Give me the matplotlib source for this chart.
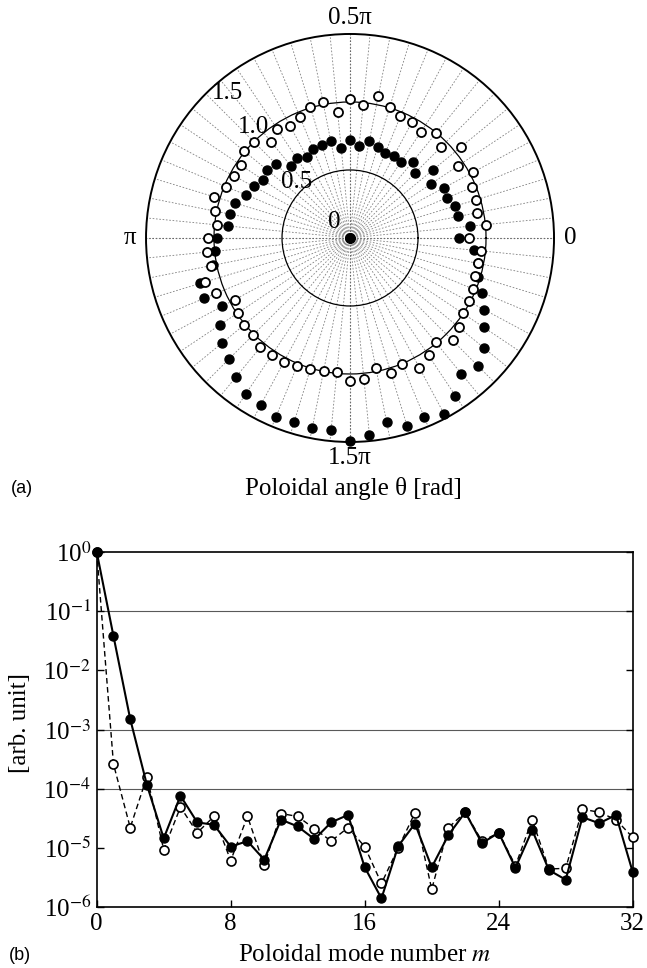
import numpy as np
import matplotlib
matplotlib.use('Agg')
import matplotlib.pyplot as plt
from matplotlib.ticker import NullLocator

plt.rcParams['font.family'] = ['Liberation Serif', 'DejaVu Serif']
plt.rcParams['mathtext.fontset'] = 'stix'

# (a) polar profile, 64 channels every 5.625 deg
n_ch = 64
theta_deg = np.arange(n_ch) * 360.0 / n_ch
r_open = [0.875, 1.005, 0.951, 0.968, 0.973, 1.024, 0.956, 1.056,
          0.951, 1.002, 0.937, 0.964, 0.967, 1.006, 1.064, 0.981,
          1.020, 0.934, 1.020, 1.005, 0.962, 0.931, 0.964, 0.916,
          1.003, 1.010, 0.961, 0.966, 0.988, 1.047, 1.009, 0.986,
          1.047, 1.060, 1.042, 1.117, 1.066, 0.961, 0.989, 1.008,
          1.010, 1.039, 1.035, 1.031, 1.019, 1.005, 0.996, 0.988,
          1.051, 1.045, 0.972, 1.034, 1.003, 1.082, 1.039, 0.991,
          1.066, 1.037, 0.997, 0.990, 0.979, 0.962, 0.957, 0.966]
r_filled = [0.800, 0.884, 0.811, 0.806, 0.768, 0.784, 0.716, 0.788,
            0.678, 0.726, 0.672, 0.681, 0.674, 0.696, 0.727, 0.680,
            0.721, 0.663, 0.726, 0.715, 0.705, 0.678, 0.707, 0.687,
            0.769, 0.788, 0.769, 0.804, 0.827, 0.887, 0.900, 0.900,
            0.980, 0.998, 1.030, 1.150, 1.160, 1.066, 1.149, 1.214,
            1.262, 1.323, 1.379, 1.396, 1.422, 1.417, 1.425, 1.419,
            1.490, 1.456, 1.377, 1.444, 1.421, 1.467, 1.395, 1.291,
            1.327, 1.277, 1.181, 1.118, 1.050, 0.985, 0.960, 0.919]
theta_labels = ['0', '0.5\u03c0', '\u03c0', '1.5\u03c0']
r_labels = ['0', '0.5', '1.0', '1.5']

# (b) poloidal mode spectrum
m = np.arange(33)
amp_filled = [1.0, 3.8e-2, 1.5e-3, 1.15e-4, 1.45e-5, 7.6e-5, 2.7e-5, 2.45e-5,
              1.05e-5, 1.3e-5, 6.3e-6, 3.0e-5, 2.3e-5, 1.4e-5, 2.7e-5, 3.6e-5,
              4.7e-6, 1.4e-6, 1.07e-5, 2.57e-5, 4.7e-6, 1.65e-5, 4.0e-5, 1.2e-5,
              1.8e-5, 4.6e-6, 2.0e-5, 4.2e-6, 2.9e-6, 3.3e-5, 2.6e-5, 3.6e-5,
              3.9e-6]
amp_open = [1.0, 2.6e-4, 2.2e-5, 1.6e-4, 9.3e-6, 4.9e-5, 1.8e-5, 3.4e-5,
            6.1e-6, 3.4e-5, 5.1e-6, 3.8e-5, 3.4e-5, 2.1e-5, 1.3e-5, 2.2e-5,
            1.05e-5, 2.5e-6, 1.0e-5, 3.9e-5, 2.0e-6, 2.2e-5, 4.0e-5, 1.3e-5,
            1.8e-5, 5.0e-6, 3.0e-5, 4.4e-6, 4.5e-6, 4.5e-5, 4.0e-5, 3.0e-5,
            1.5e-5]

fig = plt.figure(figsize=(6.47, 9.68), dpi=100)

# ---- (a) polar ----
ax = fig.add_axes([0.2257, 0.5434, 0.6306, 0.4215], projection='polar')
ax.set_ylim(0, 1.5)
ax.set_thetagrids(theta_deg, labels=[''] * n_ch)
ax.set_rgrids([0.5, 1.0], labels=['', ''])
ax.xaxis.grid(True, color='0.5', linestyle=(0, (2, 2)), linewidth=0.6)
ax.yaxis.grid(True, color='k', linestyle='-', linewidth=0.9)
ax.spines['polar'].set_linewidth(1.4)
ax.tick_params(length=0)
for a in [0, 90, 180, 270]:
    ax.plot([np.radians(a)] * 2, [0, 1.5], color='k', ls=(0, (1, 2)), lw=0.8, zorder=1)

th = np.radians(theta_deg)
ax.plot(th, r_filled, 'o', color='k', ms=6.5, ls='none', zorder=3, clip_on=False)
ax.plot(th, r_open, 'o', mfc='white', mec='k', mew=1.3, ms=6.5, ls='none', zorder=4)
ax.plot([0], [0], 'o', color='k', ms=7, zorder=5)

for ang, lab in zip([0, 90, 180, 270], theta_labels):
    ax.text(np.radians(ang), 1.62, lab, ha='center', va='center', fontsize=18)
for rr, ang, lab in zip([0.166, 0.57, 1.085, 1.395], [134, 133.4, 131, 130.3], r_labels):
    ax.text(np.radians(ang), rr, lab, ha='center', va='center', fontsize=18, zorder=2)

fig.text(353 / 647, 1 - 489 / 968, 'Poloidal angle \u03b8 [rad]', ha='center', va='center', fontsize=18)
fig.text(22 / 647, 1 - 489 / 968, '(a)', ha='center', va='center', fontsize=13,
         family=['Liberation Sans', 'DejaVu Sans'])

# ---- (b) spectrum ----
ax2 = fig.add_axes([0.1495, 0.063, 0.8284, 0.3667])
ax2.semilogy(m, amp_open, color='k', ls='--', dashes=(4, 2.5), lw=1.0, marker='o',
             mfc='white', mec='k', mew=1.2, ms=6.5, zorder=3, clip_on=False)
ax2.semilogy(m, amp_filled, color='k', ls='-', lw=1.5, marker='o',
             mfc='k', mec='k', ms=6.5, zorder=4, clip_on=False)
for g in [1e-1, 1e-3, 1e-4]:
    ax2.axhline(g, color='0.35', lw=0.8, zorder=1)
ax2.set_xlim(0, 32)
ax2.set_ylim(1e-6, 1)
ax2.set_xticks([0, 8, 16, 24, 32])
ax2.set_yticks([10.0 ** -k for k in range(7)])
ax2.set_yticklabels(['10$^{%d}$' % (-k) if k else '10$^{0}$' for k in range(7)])
ax2.yaxis.set_minor_locator(NullLocator())
ax2.tick_params(direction='in', length=5, width=1.0, right=True, labelsize=18, pad=4)
for s in ax2.spines.values():
    s.set_linewidth(1.2)

fig.text(365 / 647, 1 - 955 / 968, 'Poloidal mode number $m$', ha='center', va='center', fontsize=18)
fig.text(20 / 647, 1 - 723 / 968, '[arb. unit]', ha='center', va='center', rotation=90, fontsize=18)
fig.text(20 / 647, 1 - 955 / 968, '(b)', ha='center', va='center', fontsize=13,
         family=['Liberation Sans', 'DejaVu Sans'])

fig.savefig('out.png', dpi=100)
